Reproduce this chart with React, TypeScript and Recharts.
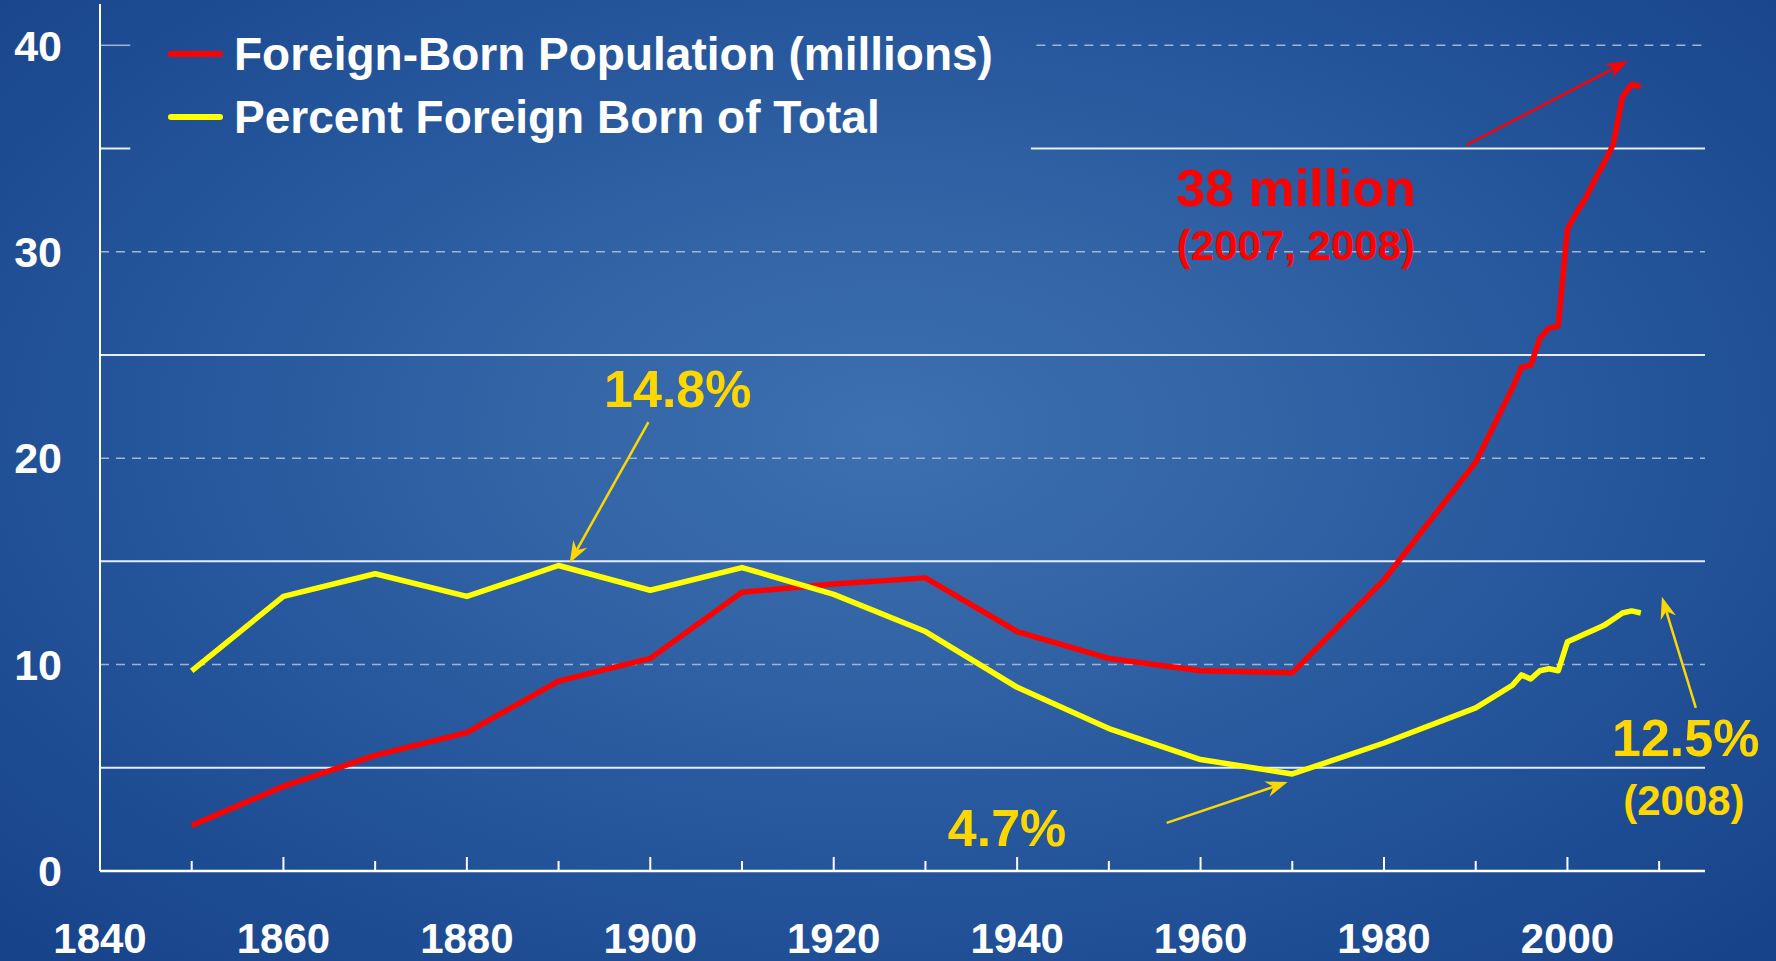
import { LineChart, Line, XAxis, YAxis, ReferenceLine, ReferenceDot } from "recharts";

const YEARS = [
  1850, 1860, 1870, 1880, 1890, 1900, 1910, 1920, 1930, 1940, 1950, 1960, 1970, 1980, 1990,
  1994, 1995, 1996, 1997, 1998, 1999, 2000, 2001, 2002, 2003, 2004, 2005, 2006, 2007, 2008,
];
const FOREIGN_BORN = [
  2.2, 4.1, 5.6, 6.7, 9.2, 10.3, 13.5, 13.9, 14.2, 11.6, 10.3, 9.7, 9.6, 14.1, 19.8,
  23.4, 24.4, 24.5, 25.8, 26.3, 26.4, 31.1, 31.9, 32.6, 33.5, 34.3, 35.2, 37.5, 38.1, 38.0,
];
const PERCENT = [
  9.7, 13.3, 14.4, 13.3, 14.8, 13.6, 14.7, 13.4, 11.6, 8.9, 6.9, 5.4, 4.7, 6.2, 7.9,
  9.0, 9.5, 9.3, 9.7, 9.8, 9.7, 11.1, 11.3, 11.5, 11.7, 11.9, 12.2, 12.5, 12.6, 12.5,
];

const X_TICKS = [1840, 1850, 1860, 1870, 1880, 1890, 1900, 1910, 1920, 1930, 1940, 1950, 1960, 1970, 1980, 1990, 2000, 2010];
const Y_TICKS = [0, 10, 20, 30, 40];
const SOLID_GRID = [5, 15, 25];
const DASHED_GRID = [10, 20, 30];

const data = YEARS.map((year, i) => ({
  year,
  foreignBorn: FOREIGN_BORN[i],
  percent: PERCENT[i],
}));

const FONT = "'Liberation Sans', Arial, Helvetica, sans-serif";
const RED = "#ff0000";
const YELLOW = "#ffff00";
const GOLD = "#ffd700";
const GRID_SOLID = "#e6edf7";
const GRID_DASH = "#9fb4d3";

const SERIES = [
  { key: "foreignBorn", name: "Foreign-Born Population (millions)", color: RED },
  { key: "percent", name: "Percent Foreign Born of Total", color: YELLOW },
];

// annotation texts, placed in data coordinates
const LABELS = [
  { x: 1970.4, y: 33.1, text: "38 million", color: RED, size: 52 },
  { x: 1970.4, y: 30.3, text: "(2007, 2008)", color: RED, size: 42 },
  { x: 1903.0, y: 23.35, text: "14.8%", color: GOLD, size: 52 },
  { x: 1938.9, y: 2.1, text: "4.7%", color: GOLD, size: 52 },
  { x: 2012.9, y: 6.45, text: "12.5%", color: GOLD, size: 52 },
  { x: 2012.7, y: 3.4, text: "(2008)", color: GOLD, size: 42 },
];

const ARROWS = [
  { from: [1989.0, 35.17], to: [2006.6, 39.24], color: RED },
  { from: [1899.8, 21.75], to: [1891.2, 14.92], color: GOLD },
  { from: [1956.3, 2.33], to: [1969.5, 4.31], color: GOLD },
  { from: [2014.0, 7.9], to: [2010.3, 13.28], color: GOLD },
];

function arrowShape(color: string) {
  // eslint-disable-next-line @typescript-eslint/no-explicit-any
  return (p: any) => {
    const { x1, y1, x2, y2 } = p;
    const a = Math.atan2(y2 - y1, x2 - x1);
    const c = Math.cos(a);
    const s = Math.sin(a);
    const L = 22;
    const W = 8;
    const N = 15;
    const pts = [
      [x2, y2],
      [x2 - L * c + W * s, y2 - L * s - W * c],
      [x2 - N * c, y2 - N * s],
      [x2 - L * c - W * s, y2 - L * s + W * c],
    ];
    return (
      <g>
        <line x1={x1} y1={y1} x2={x2 - N * c} y2={y2 - N * s} stroke={color} strokeWidth={2.5} />
        <polygon points={pts.map((q) => q.join(",")).join(" ")} fill={color} />
      </g>
    );
  };
}

function textShape(text: string, color: string, size: number) {
  // eslint-disable-next-line @typescript-eslint/no-explicit-any
  return (p: any) => (
    <text
      x={p.cx}
      y={p.cy}
      textAnchor="middle"
      dominantBaseline="central"
      fill={color}
      fontSize={size}
      fontWeight="bold"
      fontFamily={FONT}
    >
      {text}
    </text>
  );
}

// eslint-disable-next-line @typescript-eslint/no-explicit-any
function XTick({ x, y, payload }: any) {
  const year = payload.value as number;
  const major = year % 20 === 0;
  return (
    <g>
      {year !== 1840 && (
        <line x1={x} x2={x} y1={y} y2={y - (major ? 14 : 10)} stroke="#ffffff" strokeWidth={2} />
      )}
      {major && (
        <text x={x} y={y + 82} textAnchor="middle" fill="#ffffff" fontSize={42} fontWeight="bold" fontFamily={FONT}>
          {year}
        </text>
      )}
    </g>
  );
}

function LegendBox() {
  return (
    <div style={{ position: "absolute", left: 168, top: 22, display: "flex", flexDirection: "column" }}>
      {SERIES.map((s) => (
        <div key={s.key} style={{ display: "flex", alignItems: "center", height: 63 }}>
          <span
            style={{
              display: "inline-block",
              width: 55,
              height: 6,
              borderRadius: 3,
              background: s.color,
              marginRight: 11,
            }}
          />
          <span style={{ color: "#ffffff", fontSize: 46, fontWeight: "bold", fontFamily: FONT, whiteSpace: "nowrap" }}>
            {s.name}
          </span>
        </div>
      ))}
    </div>
  );
}

export default function App() {
  return (
    <div
      style={{
        position: "absolute",
        left: 0,
        top: 0,
        width: 1776,
        height: 961,
        background:
          "radial-gradient(ellipse 70% 75% at 50% 45%, #3d70b0 0%, #3264a6 30%, #24549a 62%, #17438a 100%)",
      }}
    >
      <LineChart width={1776} height={961} data={data} margin={{ top: 4, right: 71, bottom: 0, left: 0 }}>
        {SOLID_GRID.map((v) => (
          <ReferenceLine key={`s${v}`} y={v} stroke={GRID_SOLID} strokeWidth={2} />
        ))}
        {DASHED_GRID.map((v) => (
          <ReferenceLine key={`d${v}`} y={v} stroke={GRID_DASH} strokeWidth={1.5} strokeDasharray="9 7" />
        ))}
        <ReferenceLine segment={[{ x: 1840, y: 35 }, { x: 1843.3, y: 35 }]} stroke={GRID_SOLID} strokeWidth={2} />
        <ReferenceLine segment={[{ x: 1941.5, y: 35 }, { x: 2015, y: 35 }]} stroke={GRID_SOLID} strokeWidth={2} />
        <ReferenceLine segment={[{ x: 1840, y: 40 }, { x: 1843.3, y: 40 }]} stroke={GRID_DASH} strokeWidth={1.5} />
        <ReferenceLine
          segment={[{ x: 1942.1, y: 40 }, { x: 2015, y: 40 }]}
          stroke={GRID_DASH}
          strokeWidth={1.5}
          strokeDasharray="9 7"
        />

        <XAxis
          dataKey="year"
          type="number"
          domain={[1840, 2015]}
          ticks={X_TICKS}
          interval={0}
          height={90}
          tickSize={0}
          tickMargin={0}
          tickLine={false}
          axisLine={{ stroke: "#ffffff", strokeWidth: 2.5 }}
          tick={<XTick />}
        />
        <YAxis
          type="number"
          domain={[0, 42]}
          ticks={Y_TICKS}
          width={100}
          tickSize={0}
          tickMargin={38}
          tickLine={false}
          axisLine={{ stroke: "#ffffff", strokeWidth: 2 }}
          tick={{ fill: "#ffffff", fontSize: 43, fontWeight: "bold", fontFamily: FONT }}
        />

        {SERIES.map((s) => (
          <Line
            key={s.key}
            type="linear"
            dataKey={s.key}
            name={s.name}
            stroke={s.color}
            strokeWidth={5.5}
            strokeLinejoin="round"
            dot={false}
            isAnimationActive={false}
          />
        ))}

        {ARROWS.map((a, i) => (
          <ReferenceLine
            key={`a${i}`}
            segment={[{ x: a.from[0], y: a.from[1] }, { x: a.to[0], y: a.to[1] }]}
            shape={arrowShape(a.color)}
          />
        ))}
        {LABELS.map((l) => (
          <ReferenceDot key={l.text} x={l.x} y={l.y} r={0} shape={textShape(l.text, l.color, l.size)} />
        ))}
      </LineChart>
      <LegendBox />
    </div>
  );
}
